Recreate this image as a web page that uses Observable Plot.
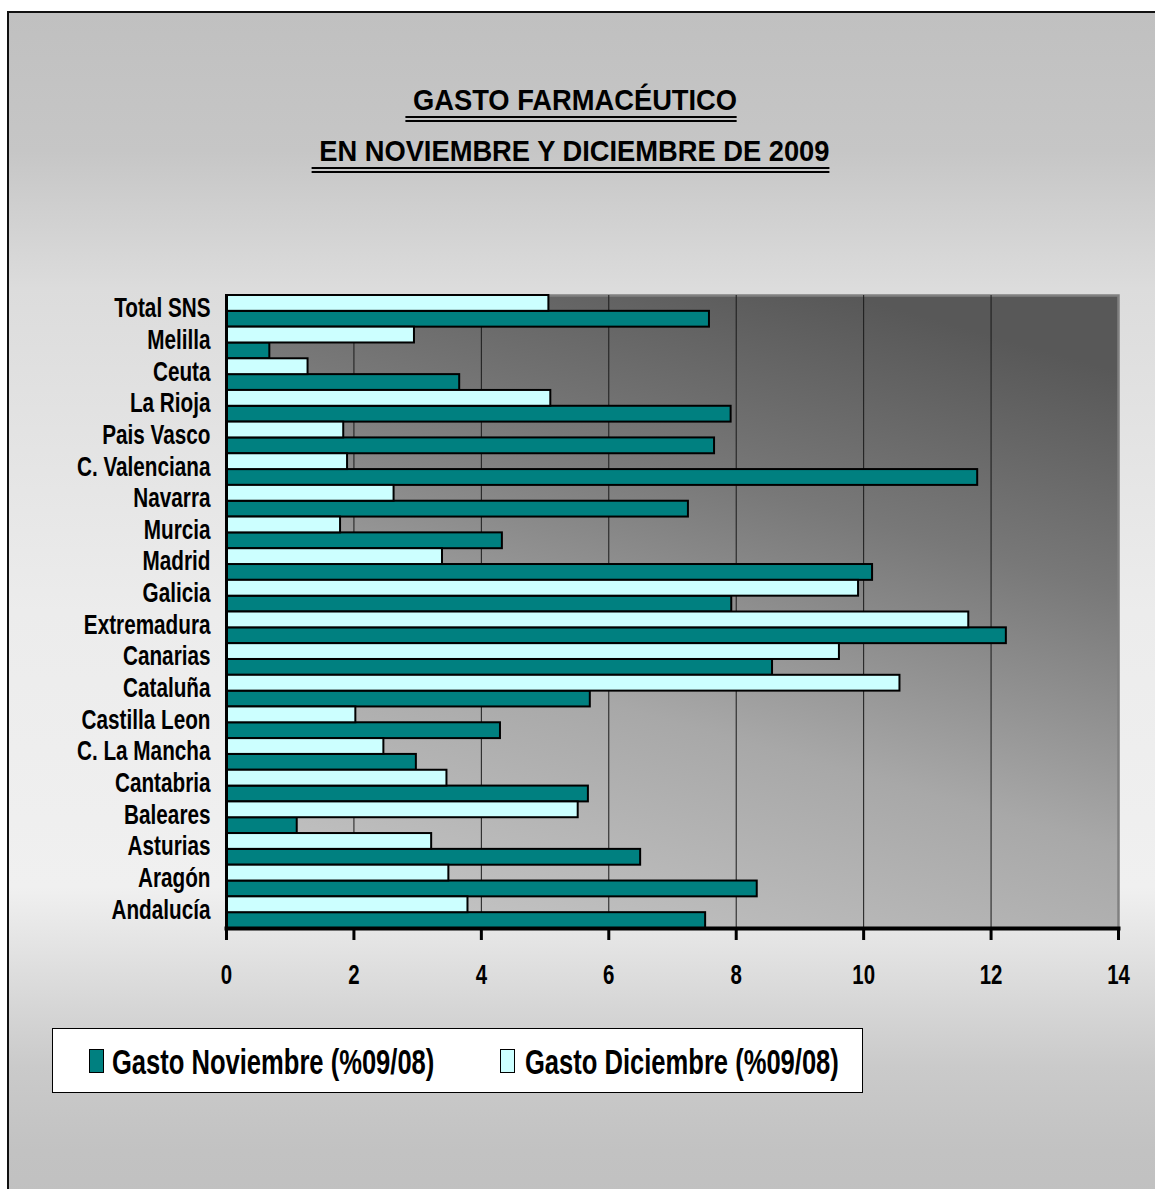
<!DOCTYPE html>
<html>
<head>
<meta charset="utf-8">
<script src="https://cdn.jsdelivr.net/npm/d3@7"></script>
<script src="https://cdn.jsdelivr.net/npm/@observablehq/plot@0.6"></script>
<style>
  html, body { margin: 0; padding: 0; background: #ffffff; }
  body { width: 1155px; height: 1189px; position: relative; overflow: hidden;
         font-family: "Liberation Sans", Arial, sans-serif; }
  #frame { position: absolute; left: 7px; top: 11px; width: 1170px; height: 1200px;
           border-left: 2px solid #111; border-top: 2px solid #111; box-sizing: border-box;
           background: linear-gradient(to bottom,
             #c0c0c0 0%, #c6c6c6 11.5%, #dcdcdc 23%, #ececec 50%, #f0f0f0 73%,
             #d6d6d6 83%, #cacaca 88%, #c2c2c2 95%, #c0c0c0 100%); }
  .tline { position: absolute; left: 0; width: 1142px; text-align: center;
           font-size: 30px; font-weight: bold; line-height: 30px; color: #000; }
  .tline span { display: inline-block; padding-bottom: 1px; border-bottom: 6px double #000; white-space: pre;
                transform: scaleX(0.91); transform-origin: 50% 50%; }
  #chart { position: absolute; left: 0; top: 250px; }
  #legend { position: absolute; left: 52px; top: 1028px; width: 811px; height: 65px;
            box-sizing: border-box; border: 1.5px solid #000; background: #fff; }
  .sw { position: absolute; width: 15px; height: 24px; box-sizing: border-box; border: 1.5px solid #000; top: 19.5px; }
  .lt { position: absolute; font-size: 35px; font-weight: bold; line-height: 35px; top: 15px; color: #000;
        white-space: nowrap; transform: scaleX(0.73); transform-origin: 0 50%; }
</style>
</head>
<body>
<div id="frame"></div>
<div class="tline" style="top:85px"><span id="t1"></span></div>
<div class="tline" style="top:136px"><span id="t2"></span></div>
<div id="chart"></div>
<div id="legend"></div>
<script>
const titleLines = [" GASTO FARMACÉUTICO", " EN NOVIEMBRE Y DICIEMBRE DE 2009"];
const regions = ["Total SNS","Melilla","Ceuta","La Rioja","Pais Vasco","C. Valenciana","Navarra","Murcia","Madrid","Galicia","Extremadura","Canarias","Cataluña","Castilla Leon","C. La Mancha","Cantabria","Baleares","Asturias","Aragón","Andalucía"];
const noviembre = [7.58, 0.68, 3.66, 7.92, 7.66, 11.79, 7.25, 4.33, 10.14, 7.93, 12.24, 8.57, 5.71, 4.30, 2.98, 5.68, 1.11, 6.50, 8.33, 7.52];
const diciembre = [5.06, 2.95, 1.28, 5.09, 1.84, 1.90, 2.63, 1.79, 3.39, 9.92, 11.65, 9.62, 10.57, 2.03, 2.47, 3.46, 5.52, 3.22, 3.49, 3.79];
const seriesNames = ["Gasto Noviembre (%09/08)", "Gasto Diciembre (%09/08)"];
const seriesColors = ["#008080", "#CCFFFF"];
const xTicks = [0, 2, 4, 6, 8, 10, 12, 14];
const gridTicks = [2, 4, 6, 8, 10, 12];

document.getElementById("t1").textContent = titleLines[0];
document.getElementById("t2").textContent = titleLines[1];

const data = regions.map((r, i) => ({region: r, nov: noviembre[i], dic: diciembre[i]}));

const W = 1155, H = 760, mT = 45, mB = 82, mL = 226, mR = 37;
const band = (H - mT - mB) / regions.length;
const half = band / 2;
const font = '"Liberation Sans", Arial, sans-serif';

const svg = Plot.plot({
  width: W, height: H,
  marginTop: mT, marginBottom: mB, marginLeft: mL, marginRight: mR,
  style: {fontFamily: font, background: "transparent", overflow: "visible", color: "#000"},
  x: {domain: [0, 14]},
  y: {domain: regions, padding: 0, round: false, label: null},
  marks: [
    Plot.frame({fill: "url(#plotbg)", stroke: "#808080", strokeWidth: 2.5}),
    Plot.ruleX(gridTicks, {stroke: "#1a1a1a", strokeWidth: 1}),
    Plot.barX(data, {x: "nov", y: "region", fill: seriesColors[0], stroke: "#000", strokeWidth: 2, insetTop: half}),
    Plot.barX(data, {x: "dic", y: "region", fill: seriesColors[1], stroke: "#000", strokeWidth: 2, insetBottom: half}),
    Plot.ruleX([0], {stroke: "#000", strokeWidth: 3}),
    Plot.frame({anchor: "bottom", stroke: "#000", strokeWidth: 4}),
    Plot.axisX({ticks: xTicks, tickSize: 12, strokeWidth: 3, tickPadding: 24, fontSize: 28, fontWeight: "bold", tickFormat: d => String(d), label: null}),
    Plot.axisY({tickSize: 0, tickPadding: 16, fontSize: 28, fontWeight: "bold", dy: -3, label: null})
  ]
});

d3.select(svg).insert("defs", ":first-child").html(
  '<linearGradient id="plotbg" x1="0.7" y1="0" x2="0.3" y2="1">' +
  '<stop offset="0" stop-color="#585858"/>' +
  '<stop offset="0.3" stop-color="#787878"/>' +
  '<stop offset="0.65" stop-color="#a8a8a8"/>' +
  '<stop offset="1" stop-color="#c2c2c2"/>' +
  '</linearGradient>');

// condense axis labels horizontally (narrow bold face look)
function condense(sel, sx) {
  svg.querySelectorAll(sel).forEach(t => {
    let tr = t.getAttribute("transform");
    if (!tr) {
      const x = t.getAttribute("x") || 0, y = t.getAttribute("y") || 0;
      t.removeAttribute("x"); t.removeAttribute("y");
      tr = `translate(${x},${y})`;
    }
    t.setAttribute("transform", tr + ` scale(${sx},1)`);
  });
}
condense('g[aria-label="y-axis tick label"] text', 0.74);
condense('g[aria-label="x-axis tick label"] text', 0.73);

document.getElementById("chart").appendChild(svg);

const legend = document.getElementById("legend");
const items = [{sw: 35.5, tx: 58.5}, {sw: 446.5, tx: 471.5}];
seriesNames.forEach((name, i) => {
  const s = document.createElement("div");
  s.className = "sw"; s.style.left = items[i].sw + "px"; s.style.background = seriesColors[i];
  legend.appendChild(s);
  const t = document.createElement("div");
  t.className = "lt"; t.style.left = items[i].tx + "px"; t.textContent = name;
  legend.appendChild(t);
});
</script>
</body>
</html>
